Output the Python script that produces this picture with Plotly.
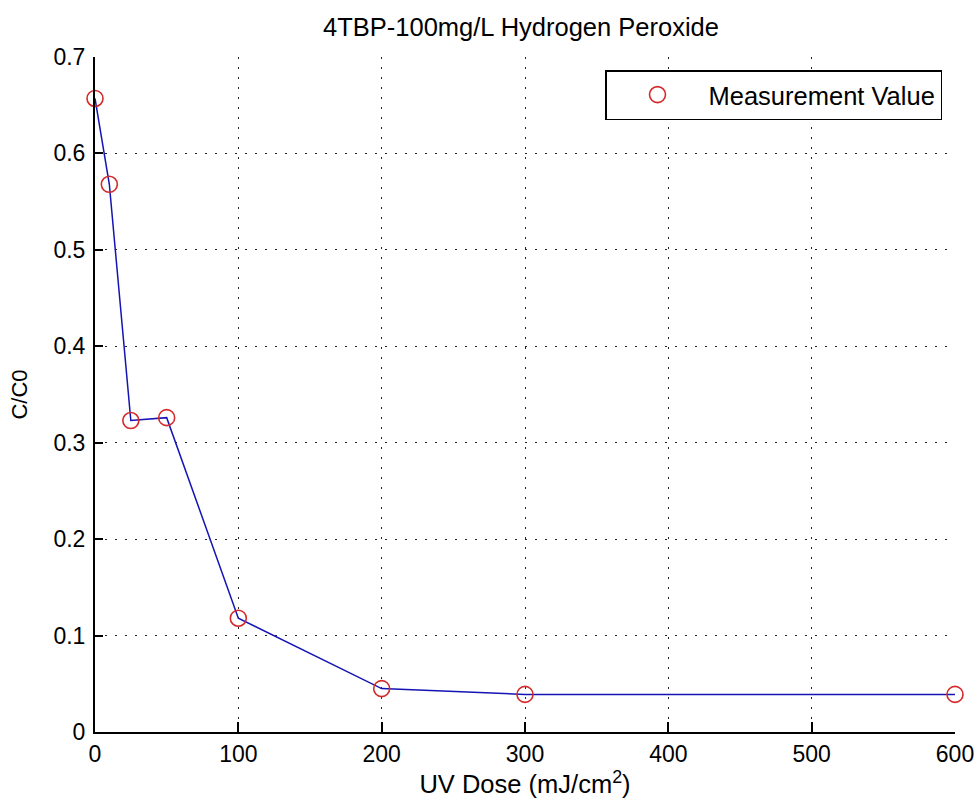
import plotly.graph_objects as go

# Data
uv_dose = [0, 10, 25, 50, 100, 200, 300, 600]
c_over_c0 = [0.657, 0.568, 0.323, 0.326, 0.118, 0.045, 0.039, 0.039]

x_ticks = [0, 100, 200, 300, 400, 500, 600]
y_ticks = [0, 0.1, 0.2, 0.3, 0.4, 0.5, 0.6, 0.7]

title_text = "4TBP-100mg/L Hydrogen Peroxide"
x_label = "UV Dose (mJ/cm<sup>2</sup>)"
y_label = "C/C0"
legend_name = "Measurement Value"

FONT = "Liberation Sans, Arial, sans-serif"

fig = go.Figure()
fig.add_trace(go.Scatter(
    x=uv_dose, y=c_over_c0, mode="lines",
    line=dict(color="#1414b4", width=1.5),
    showlegend=False, cliponaxis=False, hoverinfo="skip"))
fig.add_trace(go.Scatter(
    x=uv_dose, y=c_over_c0, mode="markers", name=legend_name,
    marker=dict(symbol="circle-open", size=16, color="#d42a2a",
                line=dict(width=1.6, color="#d42a2a")),
    cliponaxis=False))

grid = dict(showgrid=True, gridcolor="#222222", gridwidth=1,
            griddash="2px,8px", zeroline=False)

fig.update_layout(
    width=976, height=807,
    margin=dict(l=95, r=21, t=57, b=75, autoexpand=False),
    paper_bgcolor="white", plot_bgcolor="white",
    font=dict(family=FONT, size=23, color="black"),
    title=dict(text=title_text, x=521 / 976, xanchor="center",
               y=1 - 27 / 807, yanchor="middle",
               font=dict(size=25.5, family=FONT, color="black")),
    xaxis=dict(range=[0, 600], tickvals=x_ticks, ticks="inside", ticklen=10,
               tickwidth=1.5, tickcolor="black", showline=True, linecolor="black",
               linewidth=2, automargin=False,
               title=dict(text=x_label, standoff=8,
                          font=dict(size=25.5, family=FONT)),
               tickfont=dict(size=23, family=FONT), **grid),
    yaxis=dict(range=[0, 0.7], tickvals=y_ticks, ticks="inside", ticklen=8,
               tickwidth=1.5, tickcolor="black", showline=True, linecolor="black",
               linewidth=2, automargin=False, ticklabelstandoff=3,
               title=dict(text=y_label, standoff=20,
                          font=dict(size=22, family=FONT)),
               tickfont=dict(size=23, family=FONT), **grid),
    legend=dict(x=(942 - 95) / 860, xanchor="right", y=(732 - 70) / 675,
                yanchor="top", bordercolor="black", borderwidth=1.5,
                bgcolor="white", itemwidth=92,
                font=dict(size=25.5, family=FONT, color="black")),
)

fig.write_html("out.html")
